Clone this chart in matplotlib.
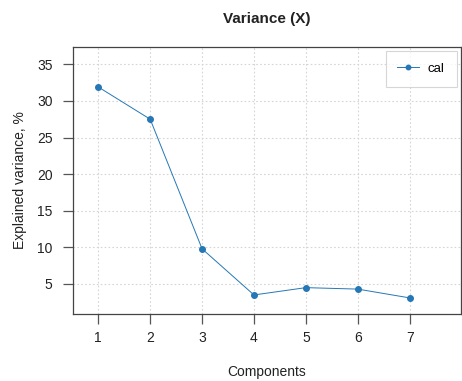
import matplotlib
matplotlib.use("Agg")
import matplotlib.pyplot as plt

plt.rcParams['font.family'] = ['Liberation Sans', 'DejaVu Sans']

components = [1, 2, 3, 4, 5, 6, 7]
cal = [31.9, 27.5, 9.8, 3.5, 4.5, 4.3, 3.1]
yticks = [5, 10, 15, 20, 25, 30, 35]

fig = plt.figure(figsize=(4.62, 3.81), dpi=100)
W, H = 462, 381
left, right, top, bottom = 72.7, 460.5, 47, 314
ax = fig.add_axes([left / W, 1 - bottom / H, (right - left) / W, (bottom - top) / H])

color = '#2577b5'
ax.plot(components, cal, color=color, lw=0.7, marker='o', ms=4, label='cal')

ax.set_xlim(0.507, 7.98)
ax.set_ylim(0.9, 37.36)
ax.set_xticks(components)
ax.set_yticks(yticks)
ax.grid(True, color='#d5d5d5', linestyle=(0, (1.5, 2)), lw=0.8)
ax.set_axisbelow(True)

for s in ax.spines.values():
    s.set_color('#444444')
    s.set_linewidth(0.9)

ax.tick_params(axis='both', direction='out', length=7.5, width=0.9, color='#555555',
               labelsize=10, labelcolor='#222222')
ax.tick_params(axis='x', pad=5)
ax.tick_params(axis='y', pad=7)

ax.set_title('Variance (X)', fontsize=11, fontweight='bold', pad=17, color='#222222')
ax.set_xlabel('Components', fontsize=10, labelpad=14, color='#222222')
ax.set_ylabel('Explained variance, %', fontsize=10, labelpad=7, color='#222222')

leg = ax.legend(loc='upper right', fontsize=9.5, frameon=True, fancybox=False,
                borderaxespad=0.3, handlelength=1.6, borderpad=0.9,
                handletextpad=0.7, markerscale=0.8)
leg.get_frame().set_edgecolor('#cccccc')
leg.get_frame().set_linewidth(0.8)

fig.savefig('out.png', dpi=100)
